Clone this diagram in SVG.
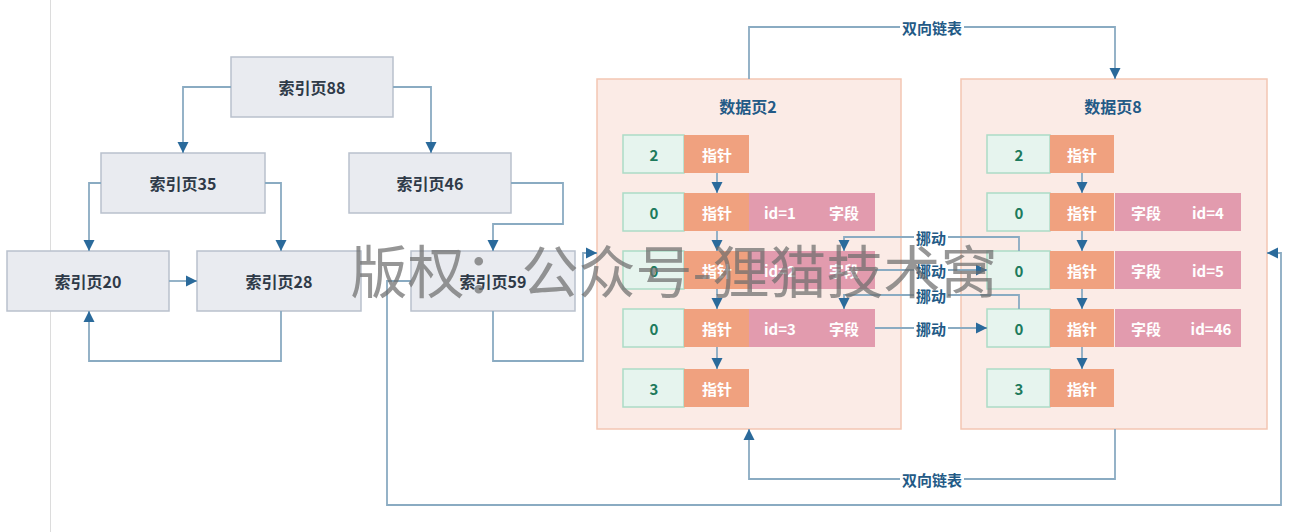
<svg xmlns="http://www.w3.org/2000/svg" width="1302" height="532" viewBox="0 0 1302 532">
<style>
text{font-family:"Noto Sans CJK SC","Noto Sans",sans-serif;text-anchor:middle;dominant-baseline:central}
.idx rect{fill:#e9ebf0;stroke:#b9c1cd;stroke-width:1.5}
.idx text{font-size:16px;font-weight:bold;fill:#2f3a48}
.page{fill:#fbebe6;stroke:#f3c6b3;stroke-width:1.5}
.ptitle{font-size:16px;font-weight:bold;fill:#235a86}
.g{fill:#e6f4ee;stroke:#acdbc6;stroke-width:1.5}
.gt{font-size:15px;font-weight:bold;fill:#1d7a5c}
.o{fill:#f0a17f}
.p{fill:#e29bae}
.wt{font-size:15px;font-weight:bold;fill:#ffffff}
.ln{fill:none;stroke:#8aabc2;stroke-width:1.8;marker-end:url(#ah)}
.lbl{font-size:15px;font-weight:bold;fill:#235a86}
.lbg{fill:#ffffff}
.wm{font-size:57px;font-weight:normal;fill:#6e6e6e;fill-opacity:0.72}
</style>
<defs>
<marker id="ah" markerUnits="userSpaceOnUse" markerWidth="12" markerHeight="12" viewBox="0 0 12 12" refX="11" refY="6" orient="auto">
<path d="M0,0.5 L11,6 L0,11.5 z" fill="#2a6a9b"/>
</marker>
</defs>
<rect width="1302" height="532" fill="#ffffff"/>
<line x1="50.5" y1="0" x2="50.5" y2="532" stroke="#dcdcdc" stroke-width="1"/>

<g id="idx88" class="idx"><rect x="231" y="57" width="162" height="60"/><text x="312" y="87">索引页88</text></g>
<g id="idx35" class="idx"><rect x="101" y="153" width="164" height="60"/><text x="183" y="183">索引页35</text></g>
<g id="idx46" class="idx"><rect x="349" y="153" width="162" height="60"/><text x="430" y="183">索引页46</text></g>
<g id="idx20" class="idx"><rect x="7" y="251" width="162" height="60"/><text x="88" y="281">索引页20</text></g>
<g id="idx28" class="idx"><rect x="197" y="251" width="164" height="60"/><text x="279" y="281">索引页28</text></g>
<g id="idx59" class="idx"><rect x="411" y="251" width="164" height="60"/><text x="493" y="281">索引页59</text></g>

<g id="page2">
<rect class="page" x="597" y="79" width="304" height="350"/>
<text class="ptitle" x="748" y="106">数据页2</text>
<g id="p2r1"><rect class="g" x="623" y="135" width="61" height="38"/><rect class="o" x="684" y="135" width="65" height="38"/><text class="gt" x="654" y="154">2</text><text class="wt" x="717" y="154">指针</text></g>
<g id="p2r2"><rect class="g" x="623" y="193" width="61" height="38"/><rect class="o" x="684" y="193" width="65" height="38"/><rect class="p" x="749" y="193" width="126" height="38"/><text class="gt" x="654" y="212">0</text><text class="wt" x="717" y="212">指针</text><text class="wt" x="780" y="212">id=1</text><text class="wt" x="844" y="212">字段</text></g>
<g id="p2r3"><rect class="g" x="623" y="251" width="61" height="38"/><rect class="o" x="684" y="251" width="65" height="38"/><rect class="p" x="749" y="251" width="126" height="38"/><text class="gt" x="654" y="270">0</text><text class="wt" x="717" y="270">指针</text><text class="wt" x="780" y="270">id=2</text><text class="wt" x="844" y="270">字段</text></g>
<g id="p2r4"><rect class="g" x="623" y="309" width="61" height="38"/><rect class="o" x="684" y="309" width="65" height="38"/><rect class="p" x="749" y="309" width="126" height="38"/><text class="gt" x="654" y="328">0</text><text class="wt" x="717" y="328">指针</text><text class="wt" x="780" y="328">id=3</text><text class="wt" x="844" y="328">字段</text></g>
<g id="p2r5"><rect class="g" x="623" y="369" width="61" height="38"/><rect class="o" x="684" y="369" width="65" height="38"/><text class="gt" x="654" y="388">3</text><text class="wt" x="717" y="388">指针</text></g>
</g>

<g id="page8">
<rect class="page" x="961" y="79" width="306" height="350"/>
<text class="ptitle" x="1113" y="106">数据页8</text>
<g id="p8r1"><rect class="g" x="987" y="135" width="63" height="38"/><rect class="o" x="1050" y="135" width="64" height="38"/><text class="gt" x="1019" y="154">2</text><text class="wt" x="1082" y="154">指针</text></g>
<g id="p8r2"><rect class="g" x="987" y="193" width="63" height="38"/><rect class="o" x="1050" y="193" width="64" height="38"/><rect class="p" x="1115" y="193" width="126" height="38"/><text class="gt" x="1019" y="212">0</text><text class="wt" x="1082" y="212">指针</text><text class="wt" x="1146" y="212">字段</text><text class="wt" x="1208" y="212">id=4</text></g>
<g id="p8r3"><rect class="g" x="987" y="251" width="63" height="38"/><rect class="o" x="1050" y="251" width="64" height="38"/><rect class="p" x="1115" y="251" width="126" height="38"/><text class="gt" x="1019" y="270">0</text><text class="wt" x="1082" y="270">指针</text><text class="wt" x="1146" y="270">字段</text><text class="wt" x="1208" y="270">id=5</text></g>
<g id="p8r4"><rect class="g" x="987" y="309" width="63" height="38"/><rect class="o" x="1050" y="309" width="64" height="38"/><rect class="p" x="1115" y="309" width="126" height="38"/><text class="gt" x="1019" y="328">0</text><text class="wt" x="1082" y="328">指针</text><text class="wt" x="1146" y="328">字段</text><text class="wt" x="1211" y="328">id=46</text></g>
<g id="p8r5"><rect class="g" x="987" y="369" width="63" height="38"/><rect class="o" x="1050" y="369" width="64" height="38"/><text class="gt" x="1019" y="388">3</text><text class="wt" x="1082" y="388">指针</text></g>
</g>

<g id="connectors">
<path class="ln" d="M231,87 H183 V153"/>
<path class="ln" d="M393,87 H431 V153"/>
<path class="ln" d="M101,183 H89 V251"/>
<path class="ln" d="M265,183 H281 V251"/>
<path class="ln" d="M511,183 H563 V224 H493 V251"/>
<path class="ln" d="M169,281 H197"/>
<path class="ln" d="M281,311 V361 H89 V311"/>
<path class="ln" d="M493,311 V361 H583 V253 H597"/>
<path class="ln" d="M411,281 H387 V505 H1281 V253 H1267"/>
<path class="ln" d="M717,173 V193"/>
<path class="ln" d="M717,231 V251"/>
<path class="ln" d="M717,289 V309"/>
<path class="ln" d="M717,347 V369"/>
<path class="ln" d="M1082,173 V193"/>
<path class="ln" d="M1082,231 V251"/>
<path class="ln" d="M1082,289 V309"/>
<path class="ln" d="M1082,347 V369"/>
<path class="ln" d="M749,79 V27 H1115 V79"/>
<path class="ln" d="M1115,429 V479 H749 V429"/>
<path class="ln" d="M1019,251 V237 H844 V251"/>
<path class="ln" d="M875,270 H987"/>
<path class="ln" d="M1019,309 V295 H844 V309"/>
<path class="ln" d="M875,328 H987"/>
<rect class="lbg" x="900" y="17" width="64" height="20"/><text class="lbl" x="932" y="27">双向链表</text>
<rect class="lbg" x="900" y="469" width="64" height="20"/><text class="lbl" x="932" y="479">双向链表</text>
<rect class="lbg" x="914" y="228" width="34" height="17"/><text class="lbl" x="931" y="237">挪动</text>
<rect class="lbg" x="914" y="262" width="34" height="17"/><text class="lbl" x="931" y="270">挪动</text>
<rect class="lbg" x="914" y="287" width="34" height="17"/><text class="lbl" x="931" y="295">挪动</text>
<rect class="lbg" x="914" y="320" width="34" height="17"/><text class="lbl" x="931" y="328">挪动</text>
</g>

<text class="wm" x="674" y="268">版权：公众号-狸猫技术窝</text>
</svg>
